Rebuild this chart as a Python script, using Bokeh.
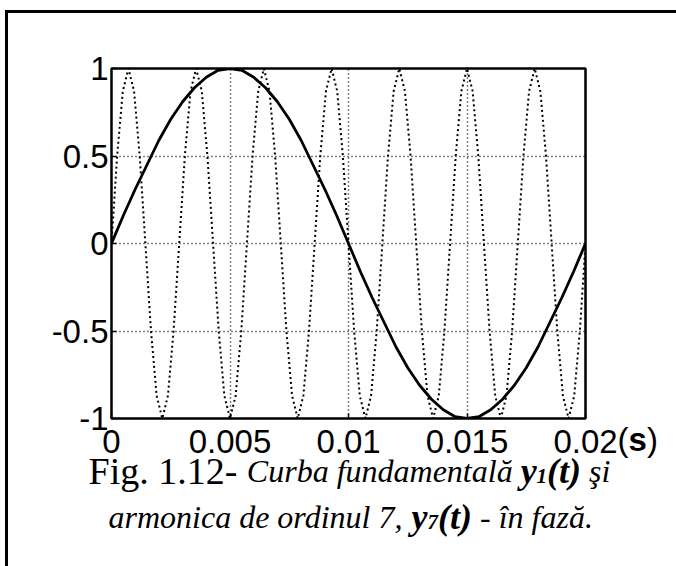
import numpy as np
from bokeh.plotting import figure
from bokeh.models import FixedTicker, Label, Range1d
from bokeh.layouts import column
from bokeh.embed import file_html
from bokeh.resources import INLINE

# fundamental y1(t), 50 Hz, one period
y_fund = [0, .16, .31, .45, .59, .71, .81, .89, .95, .99, 1,
          .99, .95, .89, .81, .71, .59, .45, .31, .16, 0,
          -.16, -.31, -.45, -.59, -.71, -.81, -.89, -.95, -.99, -1,
          -.99, -.95, -.89, -.81, -.71, -.59, -.45, -.31, -.16, 0]

# 7th harmonic y7(t), in phase with the fundamental
y_h7 = [0, .5, .87, 1, .87, .5, 0, -.5, -.87, -1, -.87, -.5,
        0, .5, .87, 1, .87, .5, 0, -.5, -.87, -1, -.87, -.5,
        0, .5, .87, 1, .87, .5, 0, -.5, -.87, -1, -.87, -.5,
        0, .5, .87, 1, .87, .5, 0, -.5, -.87, -1, -.87, -.5,
        0, .5, .87, 1, .87, .5, 0, -.5, -.87, -1, -.87, -.5,
        0, .5, .87, 1, .87, .5, 0, -.5, -.87, -1, -.87, -.5,
        0, .5, .87, 1, .87, .5, 0, -.5, -.87, -1, -.87, -.5,
        0]

T_END = 0.02
t_fund = np.linspace(0, T_END, len(y_fund))
t_h7 = np.linspace(0, T_END, len(y_h7))

x_ticks = [0, 0.005, 0.01, 0.015, 0.02]
x_labels = ["0", "0.005", "0.01", "0.015", "0.02"]
y_ticks = [-1, -0.5, 0, 0.5, 1]
y_labels = ["-1", "-0.5", "0", "0.5", "1"]

SANS = "Liberation Sans"
SERIF = "Liberation Serif"
TICK_SIZE = 33
W, H = 668, 553

p = figure(width=W, height=H, x_range=Range1d(0, T_END), y_range=Range1d(-1, 1),
           output_backend="svg", toolbar_location=None, frame_align=False,
           min_border_left=103, min_border_right=91, min_border_top=55, min_border_bottom=148)
p.background_fill_color = "white"
p.border_fill_color = "white"
p.outline_line_color = "black"
p.outline_line_width = 2.5

for ax, ticks, labels in ((p.xaxis[0], x_ticks, x_labels), (p.yaxis[0], y_ticks, y_labels)):
    ax.ticker = FixedTicker(ticks=ticks)
    ax.major_label_overrides = {t: s for t, s in zip(ticks, labels)}
    ax.axis_line_color = None
    ax.major_tick_in = 5
    ax.major_tick_out = 0
    ax.major_tick_line_color = "black"
    ax.major_tick_line_width = 1.5
    ax.minor_tick_line_color = None
    ax.major_label_text_font = SANS
    ax.major_label_text_font_size = f"{TICK_SIZE}px"
    ax.major_label_text_color = "black"
p.xaxis.major_label_standoff = 11
p.yaxis.major_label_standoff = 3

for g in (p.xgrid[0], p.ygrid[0]):
    g.grid_line_color = "black"
    g.grid_line_dash = "1 3"
    g.grid_line_width = 1.5
p.xgrid.ticker = FixedTicker(ticks=x_ticks)
p.ygrid.ticker = FixedTicker(ticks=y_ticks)

p.line(t_h7, y_h7, line_color="black", line_width=2, line_dash="2 3")
p.line(t_fund, y_fund, line_color="black", line_width=2.8)

# transparent sheet laid over the chart for the unit marker and the caption
q = figure(width=W, height=H, x_range=Range1d(0, W), y_range=Range1d(H, 0),
           output_backend="svg", toolbar_location=None, x_axis_type=None, y_axis_type=None,
           min_border=0, frame_align=False, styles={"margin-top": f"-{H}px"})
q.grid.visible = False
q.outline_line_color = None
q.background_fill_alpha = 0
q.border_fill_alpha = 0

def put(x, y, txt, font, size, style):
    q.add_layout(Label(x=x, y=y, text=txt, text_font=font, text_font_size=f"{size}px",
                       text_font_style=style, text_baseline="alphabetic", text_align="left",
                       text_color="black"))

# "(s)" right after the last x tick label
xo = 577 + 1.946 * TICK_SIZE / 2
for txt, style, w in (("(", "normal", 0.333), ("s", "bold", 0.556), (")", "normal", 0.333)):
    put(xo, 426, txt, SANS, TICK_SIZE, style)
    xo += w * TICK_SIZE

# caption, set in pieces with Times-metric advance widths
W_REG = {"F": .556, "i": .278, "g": .5, ".": .25, " ": .25, "1": .5, "2": .5, "-": .333}
W_IT = {"C": .667, "u": .5, "r": .389, "b": .5, "a": .5, " ": .25, "f": .278, "n": .5,
        "d": .5, "m": .722, "e": .444, "t": .278, "l": .278, "ă": .5, "ş": .389, "i": .278,
        "o": .5, "c": .444, "7": .5, ",": .25, "-": .333, "î": .278, "z": .389, ".": .25}
W_BI = {"y": .444, "(": .333, "t": .278, ")": .333, "1": .5, "7": .5}
TABLES = {"normal": W_REG, "italic": W_IT, "bold italic": W_BI}

def advance(txt, style, size):
    return sum(TABLES[style].get(ch, .5) for ch in txt) * size

REG, CAP, BI, SUB = 38, 32, 36, 21
caption_lines = [
    (80, 457, [("Fig. 1.12- ", "normal", REG, 0), ("Curba fundamentală ", "italic", CAP, 0),
               ("y", "bold italic", BI, 0), ("1", "bold italic", SUB, 5),
               ("(t)", "bold italic", BI, 0), (" şi", "italic", CAP, 0)]),
    (100, 503, [("armonica de ordinul 7, ", "italic", CAP, 0), ("y", "bold italic", BI, 0),
                ("7", "bold italic", SUB, 5), ("(t)", "bold italic", BI, 0),
                (" - în fază.", "italic", CAP, 0)]),
]
for x0, y0, parts in caption_lines:
    x = x0
    for txt, style, size, dy in parts:
        shown = txt.lstrip(" ")
        x += advance(txt[:len(txt) - len(shown)], style, size)
        put(x, y0 + dy, shown, SERIF, size, style)
        x += advance(shown, style, size)

page = column(p, q, styles={"margin-left": "5px", "margin-top": "10px",
                            "border-left": "3px solid black", "border-top": "3px solid black"})

open("out.html", "w").write(file_html(page, INLINE))
